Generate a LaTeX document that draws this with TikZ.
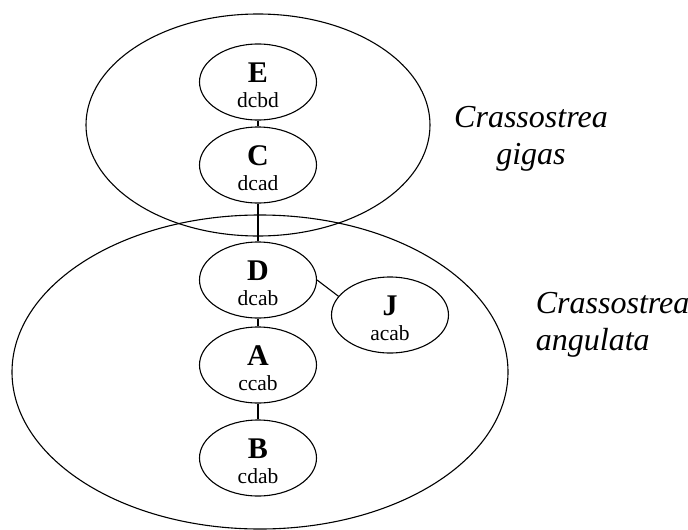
\documentclass[tikz,border=0pt]{standalone}
\usepackage{fontspec}
\setmainfont{Liberation Serif}
\usetikzlibrary{shapes.geometric}

\newcommand{\haplo}[2]{\rule{0pt}{27pt}{\fontsize{30}{30}\selectfont\bfseries #1}\\#2}

\begin{document}
\begin{tikzpicture}[x=1pt, y=-1pt, line width=1.1pt,
  main/.style = {draw, ellipse, minimum width=117pt, minimum height=76pt, inner sep=0pt, align=center, font=\fontsize{21.5}{25}\selectfont},
  group/.style = {draw, ellipse, inner sep=0pt},
  species/.style = {font=\fontsize{32}{37}\selectfont\itshape}]

\useasboundingbox (0,0) rectangle (688,530);

% the two species
\node[group, minimum width=344pt, minimum height=222pt] (gigas) at (258,125) {};
\node[group, minimum width=496pt, minimum height=314pt] (angulata) at (260,372) {};

\node[species, align=center, anchor=base] (gigaslbl) at (531,164) {Crassostrea\\gigas};
\node[species, align=left, anchor=base west] (angulatalbl) at (532,350) {Crassostrea\\angulata};

% haplotypes
\node[main] (E) at (258,82) {\haplo{E}{dcbd}};
\node[main] (C) [below of=E, node distance=83pt] {\haplo{C}{dcad}};
\node[main] (D) [below of=C, node distance=115pt] {\haplo{D}{dcab}};
\node[main] (A) [below of=D, node distance=85pt] {\haplo{A}{ccab}};
\node[main] (B) [below of=A, node distance=93pt] {\haplo{B}{cdab}};
\node[main] (J) [right of=D, node distance=132pt, yshift=-35pt] {\haplo{J}{acab}};

\draw[-] (E) -- (C);
\draw[-] (C) -- (D);
\draw[-] (D) -- (A);
\draw[-] (A) -- (B);
\draw[-] (D.east) -- (J.160);

\end{tikzpicture}
\end{document}
